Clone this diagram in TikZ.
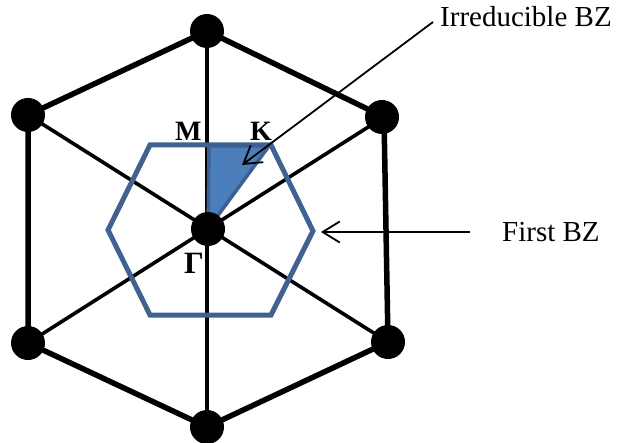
\documentclass[tikz,border=0pt]{standalone}
\usepackage{fontspec}
\setmainfont{Liberation Serif}
\usetikzlibrary{arrows.meta}
\definecolor{hexblue}{RGB}{64,98,145}
\definecolor{fillblue}{RGB}{76,126,188}
\definecolor{edgeblue}{RGB}{60,96,146}
\tikzset{
  outer/.style={line width=5.5pt},
  spoke/.style={line width=3.6pt},
  vert/.style={line width=4.2pt},
  bz/.style={draw=hexblue, line width=5pt, line join=miter},
  irr/.style={draw=edgeblue, fill=fillblue, line width=3.5pt, line join=miter},
  dot/.style={circle, fill=black, inner sep=0pt, minimum size=34pt},
  pointer/.style={line width=1.8pt, -{Straight Barb[length=17pt,width=21pt,line width=1.8pt]}},
  lbl/.style={font=\fontsize{29}{34}\selectfont, inner sep=0pt, anchor=base west},
  sym/.style={font=\bfseries\fontsize{28}{32}\selectfont, inner sep=0pt, anchor=base west}
}
\begin{document}
\begin{tikzpicture}[x=1pt,y=-1pt]
\useasboundingbox (0,0) rectangle (617,443);
% outer lattice points
\coordinate (T) at (207,31);
\coordinate (TR) at (384,117);
\coordinate (BR) at (388,342);
\coordinate (B) at (207,427);
\coordinate (BL) at (28,343);
\coordinate (TL) at (28,115);
\coordinate (G) at (208,229);
% outer hexagon
\draw[outer, line join=round] (T) -- (TR) -- (BR) -- (B) -- (BL) -- (TL) -- cycle;
% spokes
\draw[vert] (T) -- (B);
\draw[spoke] (TL) -- (BR);
\draw[spoke] (TR) -- (BL);
% first BZ
\coordinate (h1) at (108,230);
\coordinate (h2) at (150,145);
\coordinate (h3) at (271,145);
\coordinate (h4) at (313,231);
\coordinate (h5) at (271,315);
\coordinate (h6) at (150,315);
\draw[bz] (h1) -- (h2) -- (h3) -- (h4) -- (h5) -- (h6) -- cycle;
% irreducible BZ
\coordinate (M) at (209,146);
\coordinate (K) at (269,146);
\draw[irr] (M) -- (K) -- (G) -- cycle;
% dots
\node[dot] (nT) at (T) {};
\node[dot] (nTR) at (382,117) {};
\node[dot] (nBR) at (BR) {};
\node[dot] (nB) at (B) {};
\node[dot] (nBL) at (BL) {};
\node[dot] (nTL) at (TL) {};
\node[dot] (nG) at (G) {};
% labels
\node[sym] (lM) at (175,141) {M};
\node[sym] (lK) at (250,141) {K};
\node[sym, font=\bfseries\fontsize{31}{34}\selectfont] (lG) at (184,273) {Γ};
\node[lbl] (tIrr) at (440,27) {Irreducible BZ};
\node[lbl] (tFirst) at (502,241) {First BZ};
% pointers
\coordinate (a1s) at (433,22);
\coordinate (a1e) at (242,165);
\draw[pointer] (a1s) -- (a1e);
\coordinate (a2s) at (470,232);
\coordinate (a2e) at (321,232);
\draw[pointer] (a2s) -- (a2e);
\end{tikzpicture}
\end{document}
